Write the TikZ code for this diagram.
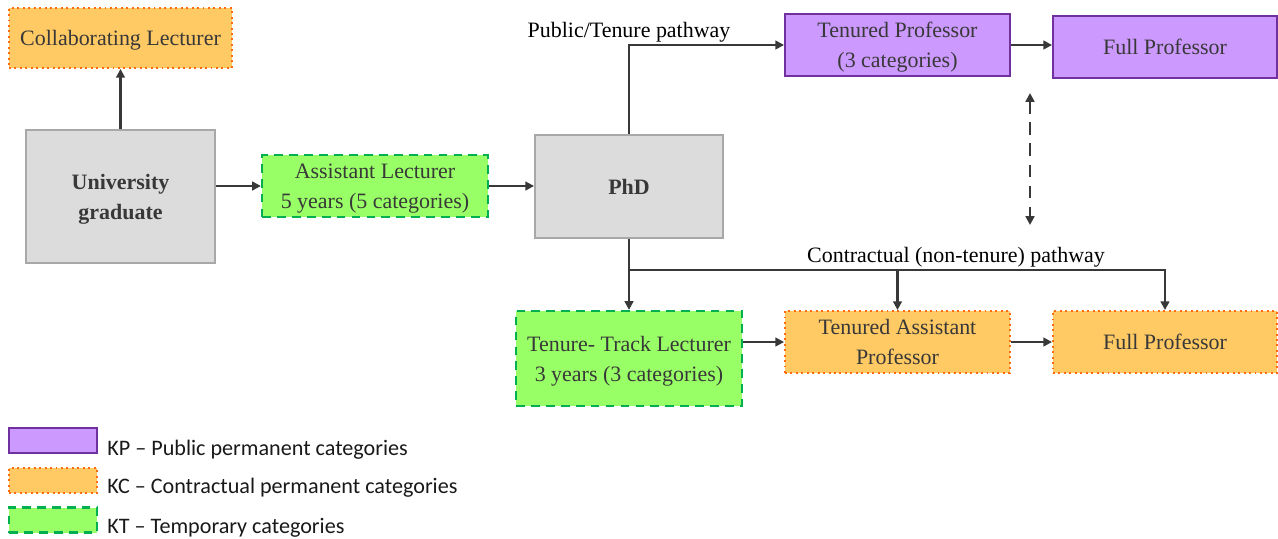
\documentclass[tikz,border=0pt]{standalone}
\usepackage{fontspec}
\setmainfont{Liberation Serif}
\newfontfamily\legendfont{Carlito}
\usetikzlibrary{arrows.meta}
\definecolor{kpfill}{HTML}{CC99FF}
\definecolor{kpline}{HTML}{7030A0}
\definecolor{kcfill}{HTML}{FFC964}
\definecolor{kcline}{HTML}{FF6A10}
\definecolor{ktfill}{HTML}{99FF66}
\definecolor{ktline}{HTML}{00B050}
\definecolor{grfill}{HTML}{DCDCDC}
\definecolor{grline}{HTML}{A8A8A8}
\definecolor{ink}{HTML}{383838}

\begin{document}
\begin{tikzpicture}[x=0.02cm,y=-0.02cm,
  box/.style={inner sep=0pt,align=center,text=ink,text depth=0pt,font=\fontsize{12.5}{17}\selectfont},
  kpbox/.style={box,draw=kpline,fill=kpfill,line width=1.1pt},
  kcbox/.style={box,draw=kcline,fill=kcfill,line width=1.1pt,dotted},
  ktbox/.style={box,draw=ktline,fill=ktfill,line width=1.3pt,dash pattern=on 5pt off 3.5pt},
  grbox/.style={box,draw=grline,fill=grfill,line width=1.1pt,font=\fontsize{12.5}{17}\selectfont\bfseries},
  arr/.style={draw=ink,line width=1.2pt,-{Triangle[length=5pt,width=5pt]}},
  legtext/.style={anchor=base west,inner sep=0pt,text=black!90,font=\legendfont\fontsize{12.6}{15}\selectfont}]

\useasboundingbox (0,0) rectangle (1278,538);

% boxes:
\node[kcbox,minimum width=4.46cm,minimum height=1.2cm] (collab) at (120.5,38) {Collaborating Lecturer};
\node[grbox,minimum width=3.78cm,minimum height=2.66cm] (grad) at (120.5,196.5) {University\\graduate};
\node[ktbox,minimum width=4.52cm,minimum height=1.24cm] (asslect) at (375,186) {Assistant Lecturer\\5 years (5 categories)};
\node[grbox,minimum width=3.76cm,minimum height=2.06cm] (phd) at (629,186.5) {PhD};
\node[kpbox,minimum width=4.5cm,minimum height=1.24cm] (tenprof) at (897.5,45) {Tenured Professor\\(3 categories)};
\node[kpbox,minimum width=4.48cm,minimum height=1.24cm] (fullprofa) at (1165,47) {Full Professor};
\node[ktbox,minimum width=4.52cm,minimum height=1.9cm] (ttlect) at (629,358.5) {Tenure- Track Lecturer\\3 years (3 categories)};
\node[kcbox,minimum width=4.5cm,minimum height=1.24cm] (tenass) at (897.5,342) {Tenured Assistant\\Professor};
\node[kcbox,minimum width=4.48cm,minimum height=1.24cm] (fullprofb) at (1165,342) {Full Professor};

% pathway labels:
\node[font=\fontsize{12.5}{15}\selectfont,inner sep=0pt] (publab) at (629,32) {Public/Tenure pathway};
\node[font=\fontsize{12.5}{15}\selectfont,inner sep=0pt] (conlab) at (956,257) {Contractual (non-tenure) pathway};

% connectors:
\draw[arr] (grad.north) -- (collab.south);
\draw[arr] (grad.east |- asslect.west) -- (asslect.west);
\draw[arr] (asslect.east) -- (asslect.east -| phd.west);
\draw[arr] (phd.north) |- (tenprof.west);
\draw[arr] (tenprof.east) -- (tenprof.east -| fullprofa.west);
\coordinate (split) at (629,270);
\draw[arr] (phd.south) -- (ttlect.north);
\draw[arr] (split) -| (tenass.north);
\draw[arr] (split) -| (fullprofb.north);
\draw[arr] (ttlect.east |- tenass.west) -- (tenass.west);
\draw[arr] (tenass.east) -- (fullprofb.west);
\coordinate (linktop) at (1030,93);
\coordinate (linkbot) at (1030,225);
\draw[arr,{Triangle[length=5pt,width=5pt]}-{Triangle[length=5pt,width=5pt]},dash pattern=on 7pt off 5pt] (linktop) -- (linkbot);

% legend:
\node[kpbox,minimum width=1.76cm,minimum height=0.5cm] (legkp) at (53,440.5) {};
\node[kcbox,minimum width=1.76cm,minimum height=0.5cm] (legkc) at (53,480.5) {};
\node[ktbox,minimum width=1.76cm,minimum height=0.5cm] (legkt) at (53,520) {};
\node[legtext] (legkptext) at (107,455) {KP – Public permanent categories};
\node[legtext] (legkctext) at (107,493) {KC – Contractual permanent categories};
\node[legtext] (legkttext) at (107,533) {KT – Temporary categories};

\end{tikzpicture}
\end{document}
